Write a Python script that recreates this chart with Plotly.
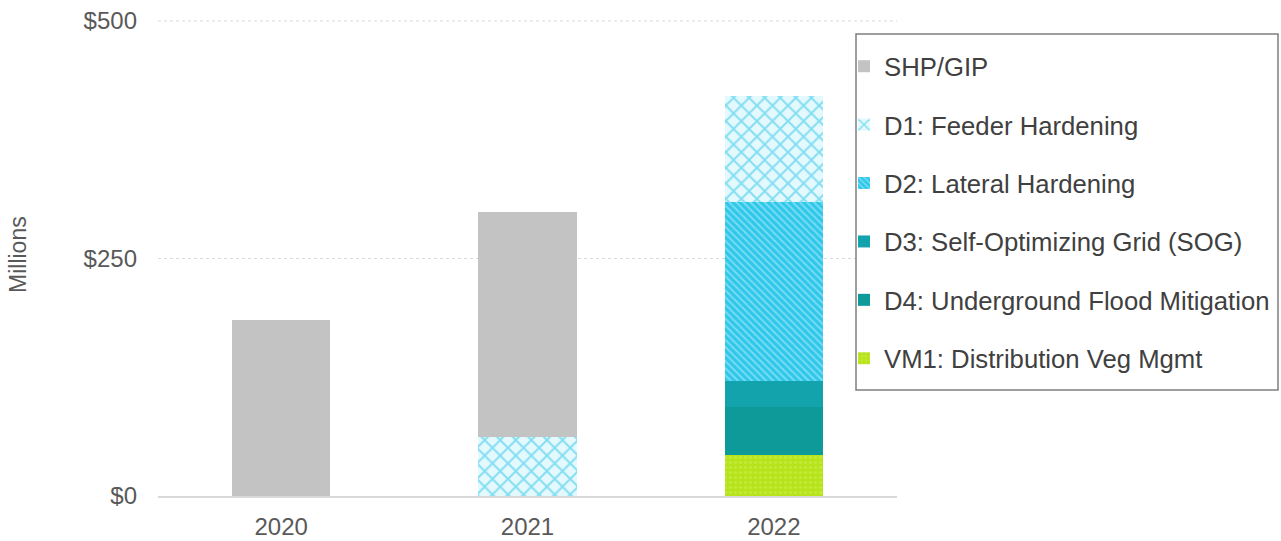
import plotly.graph_objects as go

years = ["2020", "2021", "2022"]
shp_gip = [185, 237, 0]
d1_feeder = [0, 62, 112]
d2_lateral = [0, 0, 188]
d3_sog = [0, 0, 27]
d4_flood = [0, 0, 51]
vm1_veg = [0, 0, 43]
y_ticks = [0, 250, 500]
y_tick_text = ["$0", "$250", "$500"]

# page geometry (body margin removed via post_script)
PL, PR, PT, PB = 158, 897, 20, 496
W, H = 1281, 541
YMAX = 501


def px(X):
    return (X - PL) / (PR - PL)


def py(Y):
    return (PB - Y) / (PB - PT)


fig = go.Figure()

# stacking bottom to top: VM1, D4, D3, D2, D1, SHP
fig.add_bar(x=years, y=vm1_veg, name="VM1: Distribution Veg Mgmt", legendrank=6,
            marker=dict(color="#b7e31b", line=dict(width=0),
                        pattern=dict(shape=".", fgcolor="#cdef5a", bgcolor="#b7e31b", size=5, solidity=0.3)))
fig.add_bar(x=years, y=d4_flood, name="D4: Underground Flood Mitigation", legendrank=5,
            marker=dict(color="#0f9a9a", line=dict(width=0)))
fig.add_bar(x=years, y=d3_sog, name="D3: Self-Optimizing Grid (SOG)", legendrank=4,
            marker=dict(color="#13a3ad", line=dict(width=0)))
fig.add_bar(x=years, y=d2_lateral, name="D2: Lateral Hardening", legendrank=3,
            marker=dict(color="#3ccfee", line=dict(width=0),
                        pattern=dict(shape="\\", fgcolor="#c8f1fb", bgcolor="#2fc8ea", size=5, solidity=0.35)))
fig.add_bar(x=years, y=d1_feeder, name="D1: Feeder Hardening", legendrank=2,
            marker=dict(color="#d9f6fc", line=dict(width=0),
                        pattern=dict(shape="x", fgcolor="#22c4e6", bgcolor="#e3f9fd", size=11, solidity=0.32)))
fig.add_bar(x=years, y=shp_gip, name="SHP/GIP", legendrank=1,
            marker=dict(color="#c3c3c3", line=dict(width=0)))

for tr in fig.data:
    tr.legendgroup = tr.name

fig.update_layout(
    barmode="stack",
    bargap=0.6,
    width=W, height=H,
    margin=dict(l=PL, r=W - PR, t=PT, b=H - PB, autoexpand=False),
    paper_bgcolor="white", plot_bgcolor="white",
    font=dict(family="Liberation Sans, Arial, sans-serif", color="#595959", size=24),
    showlegend=True,
    legend=dict(
        x=px(844), y=py(43), xanchor="left", yanchor="top",
        font=dict(size=25.7, color="#404040"),
        borderwidth=0, bgcolor="rgba(0,0,0,0)",
        tracegroupgap=22, itemwidth=30,
    ),
    shapes=[
        dict(type="line", xref="paper", yref="y", x0=0, x1=1, y0=y_ticks[-1], y1=y_ticks[-1],
             line=dict(color="#d9d9d9", width=1, dash="dot"), layer="below"),
        dict(type="rect", xref="paper", yref="paper",
             x0=px(856), x1=px(1278), y0=py(390), y1=py(34),
             line=dict(color="#7f7f7f", width=1.5), fillcolor="white", layer="above"),
    ],
    annotations=[dict(text="Millions", xref="paper", yref="paper", x=px(18), y=py(255),
                      xanchor="center", yanchor="middle",
                      textangle=-90, showarrow=False, font=dict(size=23, color="#595959"))],
)

fig.update_xaxes(showgrid=False, showline=True, linecolor="#d9d9d9", linewidth=1.5,
                 ticks="", ticklabelstandoff=8, tickfont=dict(size=24, color="#595959"))
fig.update_yaxes(range=[0, YMAX], tickvals=y_ticks, ticktext=y_tick_text,
                 showgrid=True, gridcolor="#d9d9d9", griddash="dot", gridwidth=1,
                 zeroline=False, showline=False, ticks="", ticklabelstandoff=20,
                 tickfont=dict(size=24, color="#595959"))

fig.write_html("out.html", config={"displayModeBar": False},
               post_script="document.body.style.margin='0';document.body.style.overflow='hidden';")
